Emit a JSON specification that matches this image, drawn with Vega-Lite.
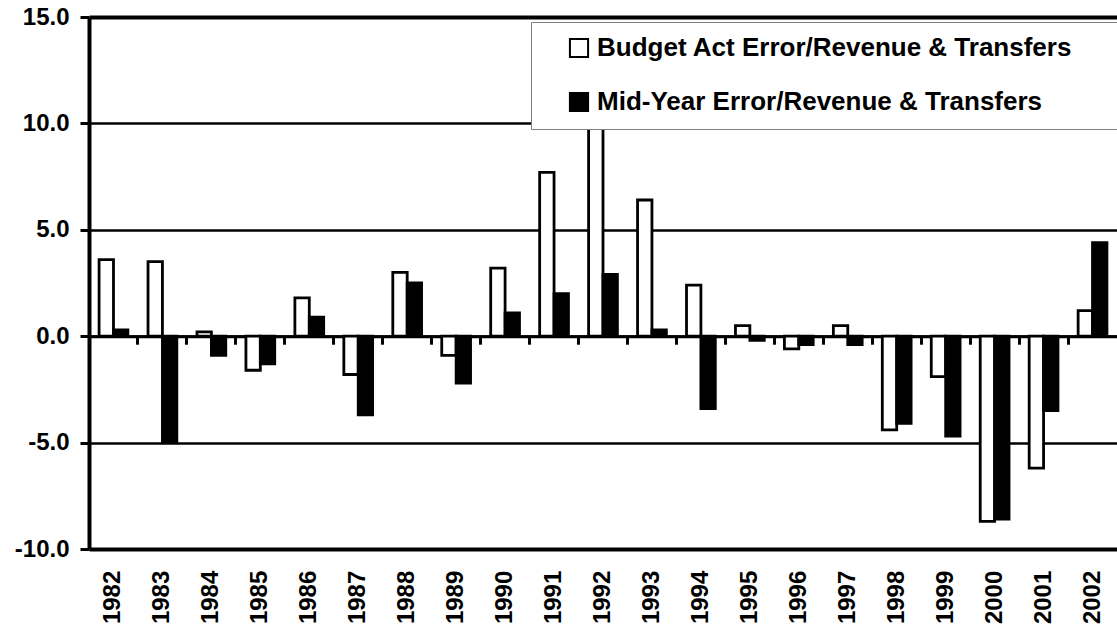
{
  "$schema": "https://vega.github.io/schema/vega-lite/v6.json",
  "autosize": "none",
  "width": 1028,
  "height": 532,
  "padding": {"left": 89, "top": 17, "right": 0, "bottom": 83},
  "background": "white",
  "config": {
    "view": {"stroke": null},
    "font": "Liberation Sans",
    "locale": {"number": {"decimal": ".", "thousands": ",", "grouping": [3], "currency": ["$", ""], "minus": "-"}}
  },
  "data": {
    "values": [
      {"year": "1982", "series": "Budget Act Error/Revenue & Transfers", "value": 3.6},
      {"year": "1982", "series": "Mid-Year Error/Revenue & Transfers", "value": 0.3},
      {"year": "1983", "series": "Budget Act Error/Revenue & Transfers", "value": 3.5},
      {"year": "1983", "series": "Mid-Year Error/Revenue & Transfers", "value": -5.0},
      {"year": "1984", "series": "Budget Act Error/Revenue & Transfers", "value": 0.2},
      {"year": "1984", "series": "Mid-Year Error/Revenue & Transfers", "value": -0.9},
      {"year": "1985", "series": "Budget Act Error/Revenue & Transfers", "value": -1.6},
      {"year": "1985", "series": "Mid-Year Error/Revenue & Transfers", "value": -1.3},
      {"year": "1986", "series": "Budget Act Error/Revenue & Transfers", "value": 1.8},
      {"year": "1986", "series": "Mid-Year Error/Revenue & Transfers", "value": 0.9},
      {"year": "1987", "series": "Budget Act Error/Revenue & Transfers", "value": -1.8},
      {"year": "1987", "series": "Mid-Year Error/Revenue & Transfers", "value": -3.7},
      {"year": "1988", "series": "Budget Act Error/Revenue & Transfers", "value": 3.0},
      {"year": "1988", "series": "Mid-Year Error/Revenue & Transfers", "value": 2.5},
      {"year": "1989", "series": "Budget Act Error/Revenue & Transfers", "value": -0.9},
      {"year": "1989", "series": "Mid-Year Error/Revenue & Transfers", "value": -2.2},
      {"year": "1990", "series": "Budget Act Error/Revenue & Transfers", "value": 3.2},
      {"year": "1990", "series": "Mid-Year Error/Revenue & Transfers", "value": 1.1},
      {"year": "1991", "series": "Budget Act Error/Revenue & Transfers", "value": 7.7},
      {"year": "1991", "series": "Mid-Year Error/Revenue & Transfers", "value": 2.0},
      {"year": "1992", "series": "Budget Act Error/Revenue & Transfers", "value": 10.0},
      {"year": "1992", "series": "Mid-Year Error/Revenue & Transfers", "value": 2.9},
      {"year": "1993", "series": "Budget Act Error/Revenue & Transfers", "value": 6.4},
      {"year": "1993", "series": "Mid-Year Error/Revenue & Transfers", "value": 0.3},
      {"year": "1994", "series": "Budget Act Error/Revenue & Transfers", "value": 2.4},
      {"year": "1994", "series": "Mid-Year Error/Revenue & Transfers", "value": -3.4},
      {"year": "1995", "series": "Budget Act Error/Revenue & Transfers", "value": 0.5},
      {"year": "1995", "series": "Mid-Year Error/Revenue & Transfers", "value": -0.2},
      {"year": "1996", "series": "Budget Act Error/Revenue & Transfers", "value": -0.6},
      {"year": "1996", "series": "Mid-Year Error/Revenue & Transfers", "value": -0.4},
      {"year": "1997", "series": "Budget Act Error/Revenue & Transfers", "value": 0.5},
      {"year": "1997", "series": "Mid-Year Error/Revenue & Transfers", "value": -0.4},
      {"year": "1998", "series": "Budget Act Error/Revenue & Transfers", "value": -4.4},
      {"year": "1998", "series": "Mid-Year Error/Revenue & Transfers", "value": -4.1},
      {"year": "1999", "series": "Budget Act Error/Revenue & Transfers", "value": -1.9},
      {"year": "1999", "series": "Mid-Year Error/Revenue & Transfers", "value": -4.7},
      {"year": "2000", "series": "Budget Act Error/Revenue & Transfers", "value": -8.7},
      {"year": "2000", "series": "Mid-Year Error/Revenue & Transfers", "value": -8.6},
      {"year": "2001", "series": "Budget Act Error/Revenue & Transfers", "value": -6.2},
      {"year": "2001", "series": "Mid-Year Error/Revenue & Transfers", "value": -3.5},
      {"year": "2002", "series": "Budget Act Error/Revenue & Transfers", "value": 1.2},
      {"year": "2002", "series": "Mid-Year Error/Revenue & Transfers", "value": 4.4}
    ]
  },
  "mark": {"type": "bar", "stroke": "black", "strokeWidth": 2.8},
  "encoding": {
    "x": {
      "field": "year", "type": "nominal", "sort": null,
      "scale": {"paddingInner": 0, "paddingOuter": 0},
      "axis": {
        "orient": "bottom", "offset": -212.8, "title": null,
        "labelAngle": -90, "labelAlign": "right", "labelBaseline": "middle",
        "labelPadding": 226, "labelFont": "Liberation Sans", "labelFontSize": 24, "labelFontWeight": "bold",
        "labelColor": "black",
        "ticks": true, "bandPosition": 0, "tickSize": 8, "tickWidth": 3, "tickColor": "black",
        "domain": true, "domainColor": "black", "domainWidth": 3, "grid": false
      }
    },
    "xOffset": {
      "field": "series", "type": "nominal",
      "scale": {"paddingInner": 0, "paddingOuter": 0.7}
    },
    "y": {
      "field": "value", "type": "quantitative",
      "scale": {"domain": [-10, 15], "nice": false, "zero": false},
      "axis": {
        "title": null, "values": [-10, -5, 0, 5, 10, 15],
        "format": ".1f",
        "labelFont": "Liberation Sans", "labelFontSize": 24, "labelFontWeight": "bold", "labelColor": "black",
        "labelPadding": 11, "tickSize": 9, "tickWidth": 3, "tickColor": "black",
        "domain": true, "domainColor": "black", "domainWidth": 4,
        "grid": true, "gridColor": "black",
        "gridWidth": {"condition": {"test": "datum.value == 15 || datum.value == -10", "value": 4}, "value": 2.5}
      }
    },
    "fill": {
      "field": "series", "type": "nominal",
      "scale": {"domain": ["Budget Act Error/Revenue & Transfers", "Mid-Year Error/Revenue & Transfers"], "range": ["white", "black"]},
      "legend": {
        "orient": "none", "legendX": 442, "legendY": 5,
        "title": " ", "titleOrient": "right", "titlePadding": 40, "titleFontSize": 10,
        "fillColor": "white", "strokeColor": "#808080",
        "padding": 13, "rowPadding": 26,
        "symbolType": "square", "symbolSize": 330, "symbolStrokeColor": "black", "symbolStrokeWidth": 2,
        "symbolOffset": 22, "labelOffset": 5,
        "labelFont": "Liberation Sans", "labelFontSize": 26, "labelFontWeight": "bold", "labelColor": "black",
        "labelLimit": 0
      }
    }
  }
}
